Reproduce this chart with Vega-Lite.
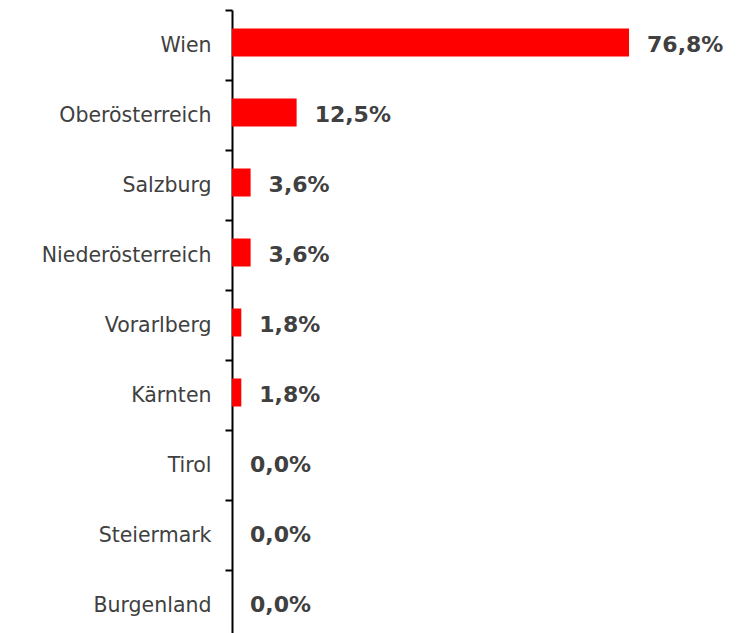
{
  "$schema": "https://vega.github.io/schema/vega-lite/v6.json",
  "width": 517,
  "height": 630,
  "autosize": {"type": "none"},
  "padding": {"left": 232, "top": 10, "right": 0, "bottom": 0},
  "background": "white",
  "config": {"view": {"stroke": null}},
  "data": {
    "values": [
      {"region": "Wien", "value": 76.8, "label": "76,8%"},
      {"region": "Oberösterreich", "value": 12.5, "label": "12,5%"},
      {"region": "Salzburg", "value": 3.6, "label": "3,6%"},
      {"region": "Niederösterreich", "value": 3.6, "label": "3,6%"},
      {"region": "Vorarlberg", "value": 1.8, "label": "1,8%"},
      {"region": "Kärnten", "value": 1.8, "label": "1,8%"},
      {"region": "Tirol", "value": 0.0, "label": "0,0%"},
      {"region": "Steiermark", "value": 0.0, "label": "0,0%"},
      {"region": "Burgenland", "value": 0.0, "label": "0,0%"}
    ]
  },
  "encoding": {
    "y": {
      "field": "region",
      "type": "nominal",
      "sort": null,
      "scale": {"paddingInner": 0.6, "paddingOuter": 0.3},
      "axis": {
        "title": null,
        "domainColor": "black",
        "domainWidth": 2,
        "tickColor": "black",
        "tickWidth": 2,
        "tickSize": 7,
        "tickOffset": -35,
        "labelOffset": 35,
        "labelFont": "DejaVu Sans",
        "labelFontSize": 20.5,
        "labelColor": "#404040",
        "labelPadding": 14,
        "labelLimit": 240
      }
    },
    "x": {
      "field": "value",
      "type": "quantitative",
      "scale": {"domain": [0, 100]},
      "axis": null
    }
  },
  "layer": [
    {"mark": {"type": "bar", "color": "#ff0000", "yOffset": -2.5}},
    {
      "mark": {
        "type": "text",
        "align": "left",
        "baseline": "middle",
        "dx": 18,
        "font": "DejaVu Sans",
        "fontWeight": "bold",
        "fontSize": 22,
        "color": "#404040"
      },
      "encoding": {"text": {"field": "label"}}
    }
  ]
}
